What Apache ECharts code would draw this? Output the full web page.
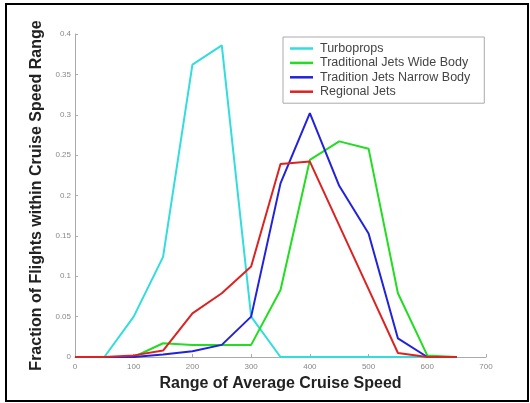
<!DOCTYPE html>
<html>
<head>
<meta charset="utf-8">
<script src="https://cdn.jsdelivr.net/npm/echarts@6/dist/echarts.min.js"></script>
<style>html,body{margin:0;padding:0;background:#fff}#c{width:530px;height:403px}</style>
</head>
<body>
<div id="c"></div>
<script>
var speeds = [0, 50, 100, 150, 200, 250, 300, 350, 400, 450, 500, 550, 600, 650];
var seriesNames = ['Turboprops', 'Traditional Jets Wide Body', 'Tradition Jets Narrow Body', 'Regional Jets'];
var turboprops = [0, 0, 0.05, 0.124, 0.362, 0.386, 0.05, 0, 0, 0, 0, 0, 0, 0];
var wideBody   = [0, 0, 0, 0.017, 0.015, 0.015, 0.015, 0.083, 0.244, 0.267, 0.258, 0.079, 0.002, 0];
var narrowBody = [0, 0, 0, 0.003, 0.007, 0.015, 0.05, 0.215, 0.302, 0.212, 0.153, 0.023, 0, 0];
var regional   = [0, 0, 0.002, 0.008, 0.054, 0.079, 0.112, 0.239, 0.242, 0.163, 0.084, 0.005, 0, 0];
var xTicks = [0, 100, 200, 300, 400, 500, 600, 700];
var yTicks = ['0', '0.05', '0.1', '0.15', '0.2', '0.25', '0.3', '0.35', '0.4'];

var colors = ['#33dddd', '#22dd22', '#2222dd', '#dd2222'];
var allData = [turboprops, wideBody, narrowBody, regional];

function pairs(arr) { return speeds.map(function (s, i) { return [s, arr[i]]; }); }

var chart = echarts.init(document.getElementById('c'));
chart.setOption({
  animation: false,
  backgroundColor: '#fff',
  grid: { left: 75, right: 44, top: 34, bottom: 46, containLabel: false },
  graphic: [{
    type: 'rect', shape: { x: 6, y: 4, width: 522, height: 397 },
    style: { fill: 'none', stroke: '#000', lineWidth: 2 }, z: 100
  }],
  legend: {
    data: seriesNames,
    orient: 'vertical',
    left: 283, top: 37,
    icon: 'rect',
    itemWidth: 23, itemHeight: 2.5, itemGap: 1.4,
    padding: [5, 14, 5, 7],
    borderColor: '#aaa', borderWidth: 1, borderRadius: 0,
    backgroundColor: '#fff',
    textStyle: { fontFamily: 'Liberation Sans, Arial', fontSize: 12.5, lineHeight: 12, color: '#444', padding: [0, 0, 0, 2] }
  },
  xAxis: {
    type: 'value', min: 0, max: 700, interval: 100,
    name: 'Range of Average Cruise Speed', nameLocation: 'middle', nameGap: 15,
    nameTextStyle: { fontFamily: 'Liberation Sans, Arial', fontWeight: 'bold', fontSize: 16, color: '#222' },
    axisLine: { lineStyle: { color: '#aaa', width: 1 } },
    axisTick: { inside: true, length: 3, lineStyle: { color: '#aaa' } },
    axisLabel: { fontSize: 8, color: '#888', margin: 6, fontFamily: 'Liberation Sans, Arial',
      formatter: function (v) { return xTicks.indexOf(v) >= 0 ? String(v) : ''; } },
    splitLine: { show: false }
  },
  yAxis: {
    type: 'value', min: 0, max: 0.4, interval: 0.05,
    name: 'Fraction of Flights within Cruise Speed Range', nameLocation: 'middle', nameGap: 26,
    nameTextStyle: { fontFamily: 'Liberation Sans, Arial', fontWeight: 'bold', fontSize: 16, color: '#222' },
    axisLine: { show: true, lineStyle: { color: '#aaa', width: 1 } },
    axisTick: { show: true, inside: true, length: 3, lineStyle: { color: '#aaa' } },
    axisLabel: { fontSize: 8, color: '#888', margin: 4, fontFamily: 'Liberation Sans, Arial',
      formatter: function (v) { return yTicks[Math.round(v / 0.05)]; } },
    splitLine: { show: false }
  },
  series: seriesNames.map(function (n, i) {
    return {
      name: n, type: 'line', data: pairs(allData[i]),
      symbol: 'none', showSymbol: false,
      lineStyle: { color: colors[i], width: 2 },
      itemStyle: { color: colors[i] }
    };
  })
});
</script>
</body>
</html>
